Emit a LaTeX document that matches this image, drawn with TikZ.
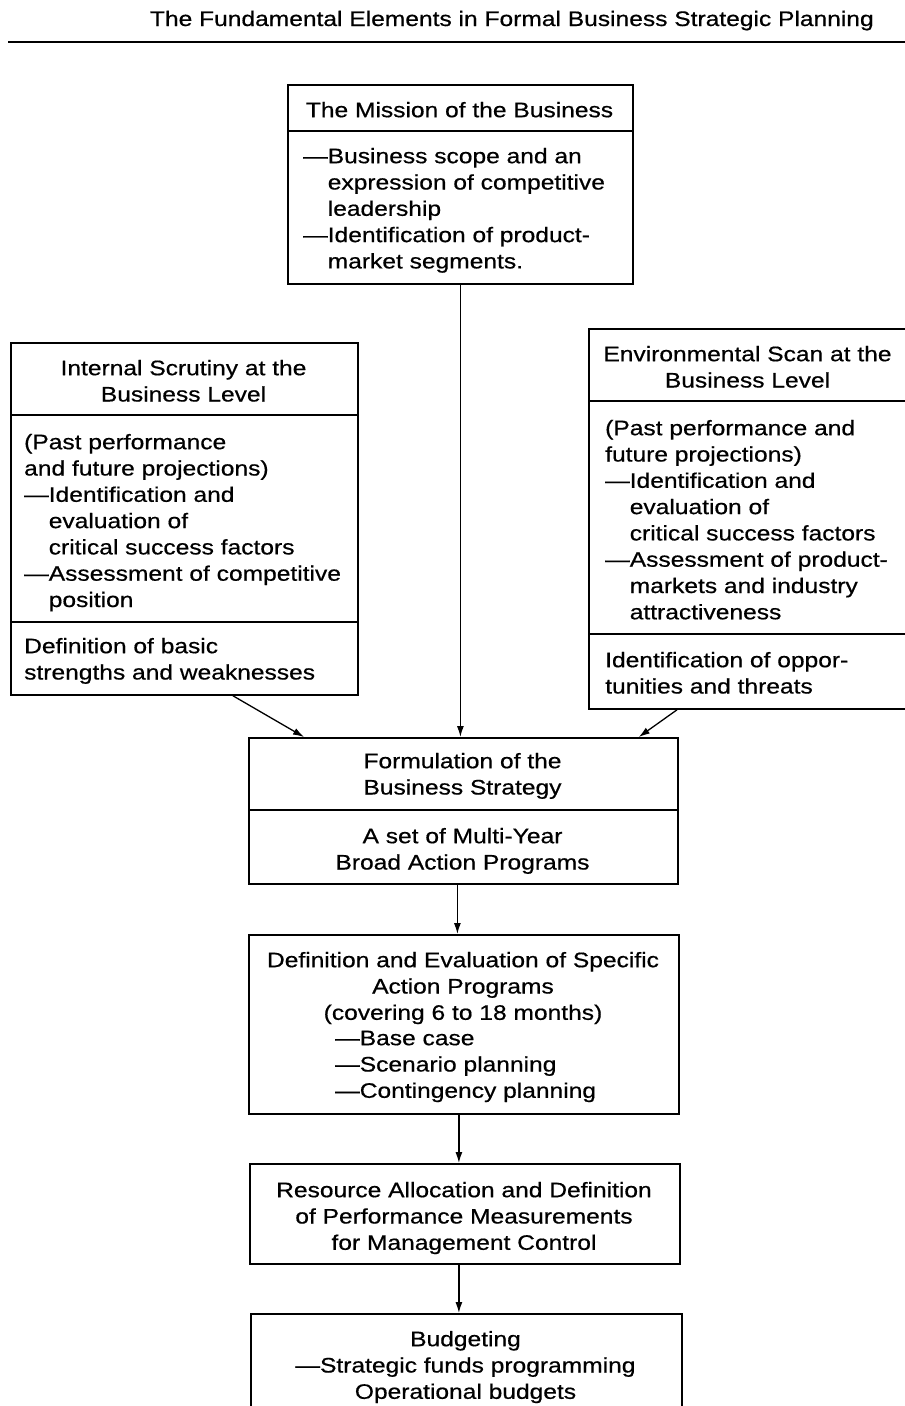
\documentclass[tikz,border=0pt]{standalone}
\usepackage{fontspec}
\setmainfont[FakeStretch=1.17,FakeBold=0.6]{Liberation Sans}
\usetikzlibrary{arrows.meta}
\newcommand\firstln{\rule{0pt}{20pt}}
\newcommand\ind{\phantom{—}}
\begin{document}
\begin{tikzpicture}[x=1pt,y=-1pt,
  box/.style={draw, line width=1.8pt, inner sep=0pt, anchor=north west},
  divider/.style={line width=1.5pt},
  txt/.style={inner sep=0pt, font=\fontsize{21}{26.3}\selectfont},
  ltxt/.style={txt, anchor=north west, align=left},
  ctxt/.style={txt, anchor=north, align=center},
  arr/.style={line width=1.3pt, -{Latex[length=11pt,width=7pt]}}]
\useasboundingbox (0,0) rectangle (905,1406);
\clip (0,0) rectangle (905,1406);

% title and rule
\node[txt, anchor=base east] (title) at (874,26) {The Fundamental Elements in Formal Business Strategic Planning};
\coordinate (ruleL) at (8,42);
\coordinate (ruleR) at (905,42);
\draw[line width=2.4pt] (ruleL) -- (ruleR);

% Mission box
\node[box, minimum width=345pt, minimum height=199pt] (mission) at (287,84) {};
\draw[divider] (mission.west |- 0,131) -- (mission.east |- 0,131);
\node[ctxt] (missionT) at (459.5,97) {\firstln The Mission of the Business};
\node[ltxt] (missionB) at (303,143) {\firstln —Business scope and an\\
\ind expression of competitive\\
\ind leadership\\
—Identification of product-\\
\ind market segments.};

% Internal scrutiny box
\node[box, minimum width=347pt, minimum height=352pt] (internal) at (10,342) {};
\draw[divider] (internal.west |- 0,415) -- (internal.east |- 0,415);
\draw[divider] (internal.west |- 0,622) -- (internal.east |- 0,622);
\node[ctxt] (internalT) at (183.5,355) {\firstln Internal Scrutiny at the\\Business Level};
\node[ltxt] (internalB) at (24,429) {\firstln (Past performance\\
and future projections)\\
—Identification and\\
\ind evaluation of\\
\ind critical success factors\\
—Assessment of competitive\\
\ind position};
\node[ltxt] (internalC) at (24,633) {\firstln Definition of basic\\strengths and weaknesses};

% Environmental scan box
\node[box, minimum width=319pt, minimum height=380pt] (env) at (588,328) {};
\draw[divider] (env.west |- 0,401) -- (env.east |- 0,401);
\draw[divider] (env.west |- 0,634) -- (env.east |- 0,634);
\node[ctxt] (envT) at (747.5,341) {\firstln Environmental Scan at the\\Business Level};
\node[ltxt] (envB) at (605,415) {\firstln (Past performance and\\
future projections)\\
—Identification and\\
\ind evaluation of\\
\ind critical success factors\\
—Assessment of product-\\
\ind markets and industry\\
\ind attractiveness};
\node[ltxt] (envC) at (605,647) {\firstln Identification of oppor-\\tunities and threats};

% Formulation box
\node[box, minimum width=429pt, minimum height=146pt] (formul) at (248,737) {};
\draw[divider] (formul.west |- 0,810) -- (formul.east |- 0,810);
\node[ctxt] (formulT) at (462.5,748) {\firstln Formulation of the\\Business Strategy};
\node[ctxt] (formulB) at (462.5,823) {\firstln A set of Multi-Year\\Broad Action Programs};

% Definition box
\node[box, minimum width=430pt, minimum height=179pt] (defn) at (248,934) {};
\node[ctxt] (defnT) at (463,947) {\firstln Definition and Evaluation of Specific\\
Action Programs\\
(covering 6 to 18 months)};
\node[ltxt] (defnB) at (335,1025) {\firstln —Base case\\
—Scenario planning\\
—Contingency planning};

% Resource box
\node[box, minimum width=430pt, minimum height=100pt] (resource) at (249,1163) {};
\node[ctxt] (resourceT) at (464,1177) {\firstln Resource Allocation and Definition\\
of Performance Measurements\\
for Management Control};

% Budgeting box
\node[box, minimum width=431pt, minimum height=120pt] (budget) at (250,1313) {};
\node[ctxt] (budgetT) at (465.5,1326) {\firstln Budgeting\\
—Strategic funds programming\\
Operational budgets};

% connectors
\draw[arr] (mission.south) -- (mission.south |- formul.north);
\draw[arr] ([xshift=223pt]internal.south west) -- ([xshift=56pt]formul.north west);
\draw[arr] ([xshift=89pt]env.south west) -- ([xshift=-40pt]formul.north east);
\draw[arr] ([xshift=-6pt]formul.south) -- ([xshift=-6pt]formul.south |- defn.north);
\draw[arr] ([xshift=-5pt]defn.south) -- ([xshift=-5pt]defn.south |- resource.north);
\draw[arr] ([xshift=-6pt]resource.south) -- ([xshift=-6pt]resource.south |- budget.north);
\end{tikzpicture}
\end{document}
